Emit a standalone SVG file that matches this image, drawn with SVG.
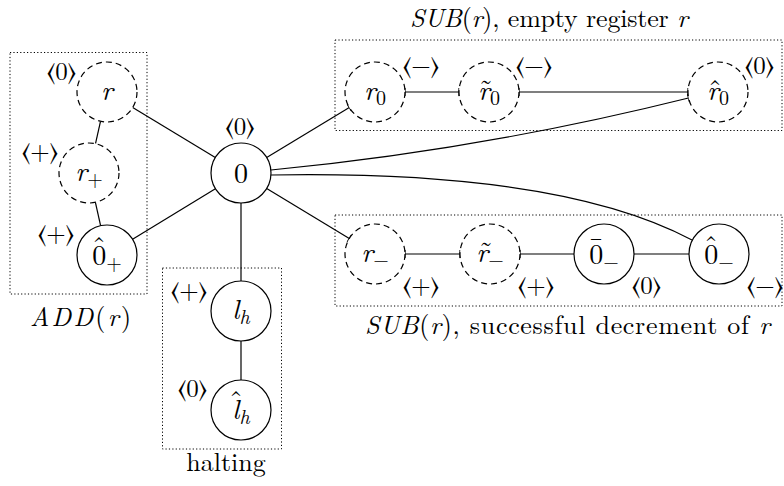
<svg xmlns="http://www.w3.org/2000/svg" width="784" height="486" viewBox="0 0 784 486">
<style>
.box{fill:none;stroke:#000;stroke-width:1;stroke-dasharray:1.2,2.2}
.n{fill:#fff;stroke:#000;stroke-width:1.2}
.d{fill:#fff;stroke:#000;stroke-width:1.2;stroke-dasharray:6,4}
.e{fill:none;stroke:#000;stroke-width:1.2}
.lab{font-size:28px;text-anchor:middle}
.acc{font-size:28px;text-anchor:middle}
.m{font-style:italic}
.sub{font-size:20px}
.ang{font-size:25px}
.cap{font-size:26px}
</style>
<defs>
<marker id="tk" viewBox="-2 -5 4 10" markerWidth="4" markerHeight="10" refX="0" refY="0" orient="auto" markerUnits="userSpaceOnUse">
<path d="M0,-4 L0,4" stroke="#000" stroke-width="1.2"/>
</marker>
</defs>
<g font-family="'Latin Modern Roman','CMU Serif','Liberation Serif','Times New Roman',Tinos,'Nimbus Roman','FreeSerif','DejaVu Serif','Noto Serif',serif">
<rect class="box" x="10" y="52.5" width="137" height="241.5"/>
<rect class="box" x="335" y="40" width="447" height="90.5"/>
<rect class="box" x="335" y="215" width="447" height="91"/>
<rect class="box" x="162.5" y="268" width="119" height="181"/>
<g id="connectors">
<line class="e" x1="132.7" y1="107.5" x2="215.3" y2="157.5"/>
<line class="e" x1="132.6" y1="239.3" x2="215.4" y2="188.7"/>
<line class="e" x1="100.5" y1="121.3" x2="95.5" y2="143.7"/>
<line class="e" x1="95.4" y1="202.3" x2="100.6" y2="225.7"/>
<line class="e" x1="266.7" y1="157.5" x2="349.3" y2="107.5" marker-end="url(#tk)"/>
<line class="e" x1="266.7" y1="188.5" x2="349.3" y2="238.5" marker-end="url(#tk)"/>
<line class="e" x1="241" y1="203" x2="241" y2="281"/>
<line class="e" x1="241" y1="341" x2="241" y2="380"/>
<line class="e" x1="405" y1="92" x2="459" y2="92" stroke="#444" marker-start="url(#tk)" marker-end="url(#tk)"/>
<line class="e" x1="519" y1="92" x2="688" y2="92" stroke="#444" marker-start="url(#tk)" marker-end="url(#tk)"/>
<line class="e" x1="405" y1="254" x2="460" y2="254" marker-start="url(#tk)" marker-end="url(#tk)"/>
<line class="e" x1="520" y1="254" x2="574" y2="254" marker-start="url(#tk)"/>
<line class="e" x1="634" y1="254" x2="689" y2="254"/>
<path class="e" d="M271,170 Q480,150 688.5,98" marker-end="url(#tk)"/>
<path class="e" d="M271,175 Q560,170 692,240"/>
</g>
<g id="node-r"><circle class="d" cx="107" cy="92" r="30"/><text class="lab m" x="107" y="100">r</text><text class="ang" x="76" y="80" text-anchor="end">⟨0⟩</text></g>
<g id="node-rplus"><circle class="d" cx="89" cy="173" r="30"/><text class="lab" x="89" y="181"><tspan class="m">r</tspan><tspan class="sub" dy="5">+</tspan></text><text class="ang" x="58" y="160" text-anchor="end">⟨+⟩</text></g>
<g id="node-0hatplus"><circle class="n" cx="107" cy="255" r="30"/><text class="lab" x="107" y="265">0<tspan class="sub" dy="5">+</tspan></text><text class="acc" x="99" y="256">ˆ</text><text class="ang" x="74" y="242" text-anchor="end">⟨+⟩</text></g>
<g id="node-0"><circle class="n" cx="241" cy="173" r="30"/><text class="lab" x="241" y="183">0</text><text class="ang" x="240" y="135" text-anchor="middle">⟨0⟩</text></g>
<g id="node-r0"><circle class="d" cx="375" cy="92" r="30"/><text class="lab" x="375" y="100"><tspan class="m">r</tspan><tspan class="sub" dy="5">0</tspan></text><text class="ang" x="403" y="74">⟨−⟩</text></g>
<g id="node-rtilde0"><circle class="d" cx="489" cy="92" r="30"/><text class="lab" x="489" y="100"><tspan class="m">r</tspan><tspan class="sub" dy="5">0</tspan></text><text class="acc" x="486" y="99">˜</text><text class="ang" x="516" y="74">⟨−⟩</text></g>
<g id="node-rhat0"><circle class="d" cx="718" cy="92" r="30"/><text class="lab" x="718" y="100"><tspan class="m">r</tspan><tspan class="sub" dy="5">0</tspan></text><text class="acc" x="715" y="99">ˆ</text><text class="ang" x="745" y="74">⟨0⟩</text></g>
<g id="node-rminus"><circle class="d" cx="375" cy="254" r="30"/><text class="lab" x="375" y="262"><tspan class="m">r</tspan><tspan class="sub" dy="5">−</tspan></text><text class="ang" x="403" y="294">⟨+⟩</text></g>
<g id="node-rtildeminus"><circle class="d" cx="490" cy="254" r="30"/><text class="lab" x="490" y="262"><tspan class="m">r</tspan><tspan class="sub" dy="5">−</tspan></text><text class="acc" x="486" y="261">˜</text><text class="ang" x="518" y="294">⟨+⟩</text></g>
<g id="node-0barminus"><circle class="n" cx="604" cy="254" r="30"/><text class="lab" x="604" y="264">0<tspan class="sub" dy="5">−</tspan></text><text class="acc" x="596" y="256">¯</text><text class="ang" x="632" y="294">⟨0⟩</text></g>
<g id="node-0hatminus"><circle class="n" cx="719" cy="254" r="30"/><text class="lab" x="719" y="264">0<tspan class="sub" dy="5">−</tspan></text><text class="acc" x="711" y="255">ˆ</text><text class="ang" x="747" y="294">⟨−⟩</text></g>
<g id="node-lh"><circle class="n" cx="241" cy="311" r="30"/><text class="lab" x="241" y="319"><tspan class="m">l</tspan><tspan class="sub m" dy="5">h</tspan></text><text class="ang" x="207" y="299" text-anchor="end">⟨+⟩</text></g>
<g id="node-lhhat"><circle class="n" cx="241" cy="410" r="30"/><text class="lab" x="241" y="419"><tspan class="m">l</tspan><tspan class="sub m" dy="5">h</tspan></text><text class="acc" x="236" y="410">ˆ</text><text class="ang" x="207" y="397" text-anchor="end">⟨0⟩</text></g>
<text class="cap" x="410" y="27" textLength="278" lengthAdjust="spacing"><tspan class="m">SUB</tspan>(<tspan class="m">r</tspan>), empty register <tspan class="m">r</tspan></text>
<text class="cap" x="365" y="334" textLength="405" lengthAdjust="spacing"><tspan class="m">SUB</tspan>(<tspan class="m">r</tspan>), successful decrement of <tspan class="m">r</tspan></text>
<text class="cap" x="30" y="326" textLength="101" lengthAdjust="spacing"><tspan class="m">ADD</tspan>(<tspan class="m">r</tspan>)</text>
<text class="cap" x="226" y="471" text-anchor="middle">halting</text>
</g>
</svg>
